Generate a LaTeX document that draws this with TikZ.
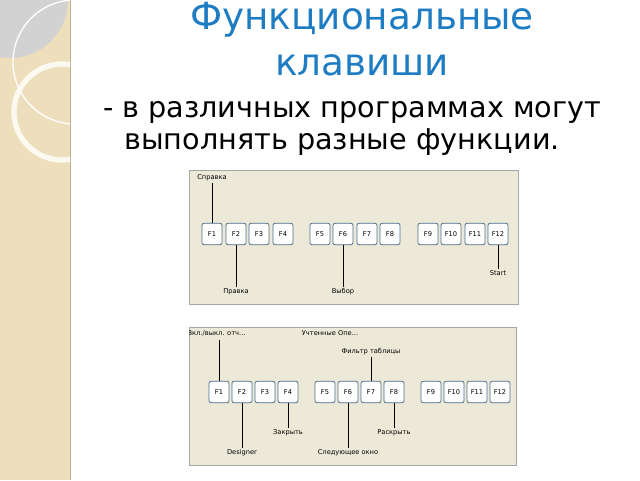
\documentclass[tikz,border=0pt]{standalone}
\usepackage{fontspec}
\setmainfont{DejaVu Sans}
\definecolor{strip}{HTML}{EEDFBC}
\definecolor{titleblue}{HTML}{1E7DC2}
\definecolor{panel}{HTML}{ECE9D8}
\definecolor{keyedge}{HTML}{4F6F8F}
\begin{document}
\begin{tikzpicture}[x=0.75pt, y=-0.75pt,
                key/.style={draw=keyedge, fill=white, rounded corners=1.5pt, line width=0.6pt,
                            minimum width=15pt, minimum height=16pt, inner sep=0pt, font=\fontsize{5}{6}\selectfont},
                tag/.style={inner sep=1pt, font=\fontsize{5}{6}\selectfont},
                lead/.style={draw, line width=0.6pt}]
                
                \useasboundingbox (0,0) rectangle (640,480);
                % left strip
                \fill[strip] (0,0) rectangle (70,480);
                \draw[strip!80!black, line width=0.5pt] (70,0) -- (70,480);
                \begin{scope}
                \clip (0,0) rectangle (70,480);
                \fill[gray!35] (10,0) circle (58);
                \draw[white!80!strip, line width=4pt] (62,112) circle (48);
                \draw[white, line width=1pt] (75,62) circle (62);
                \end{scope}
                
                % title
                \node (title1) [titleblue, font=\fontsize{28}{32}\selectfont] at (362,20) {Функциональные};
                \node (title2) [titleblue, font=\fontsize{28}{32}\selectfont] at (362,65) {клавиши};
                \node (sub1) [font=\fontsize{21.5}{24}\selectfont] at (352,112) {- в различных программах могут};
                \node (sub2) [font=\fontsize{21.5}{24}\selectfont] at (342,142) {выполнять разные функции.};
                
                % first panel
                \draw[fill=panel, draw=gray!70] (189,170) rectangle (518,304);
                \foreach \n/\x in {1/212, 2/236, 3/259, 4/283, 5/320, 6/343, 7/367, 8/390, 9/428, 10/451, 11/475, 12/498}
                    \node (a\n) [key] at (\x,234) {F\n};
                \node (sprav) [tag] at (212,178) {Справка};
                \node (pravka) [tag] at (236,292) {Правка};
                \node (vybor) [tag] at (343,292) {Выбор};
                \node (start) [tag] at (498,273) {Start};
                \path[lead]
                    (sprav) -- (a1)
                    (a2) -- (pravka)
                    (a6) -- (vybor)
                    (a12) -- (start);
                
                % second panel
                \draw[fill=panel, draw=gray!70] (189,327) rectangle (516,465);
                \foreach \n/\x in {1/219, 2/242, 3/265, 4/288, 5/325, 6/348, 7/371, 8/394, 9/431, 10/454, 11/477, 12/500}
                    \node (b\n) [key] at (\x,392) {F\n};
                \begin{scope}
                \clip (189,327) rectangle (516,465);
                \node (vkl) [tag, anchor=west] at (186,333) {Вкл./выкл. отч...};
                \end{scope}
                \coordinate (vklfoot) at (219,340);
                \node (uchet) [tag] at (330,333) {Учтенные Опе...};
                \node (filtr) [tag] at (371,352) {Фильтр таблицы};
                \node (designer) [tag] at (242,453) {Designer};
                \node (zakr) [tag] at (288,433) {Закрыть};
                \node (sled) [tag] at (348,453) {Следующее окно};
                \node (raskr) [tag] at (394,433) {Раскрыть};
                \path[lead]
                    (vklfoot) -- (b1)
                    (filtr) -- (b7)
                    (b2) -- (designer)
                    (b4) -- (zakr)
                    (b6) -- (sled)
                    (b8) -- (raskr);
                
                \end{tikzpicture}
\end{document}
